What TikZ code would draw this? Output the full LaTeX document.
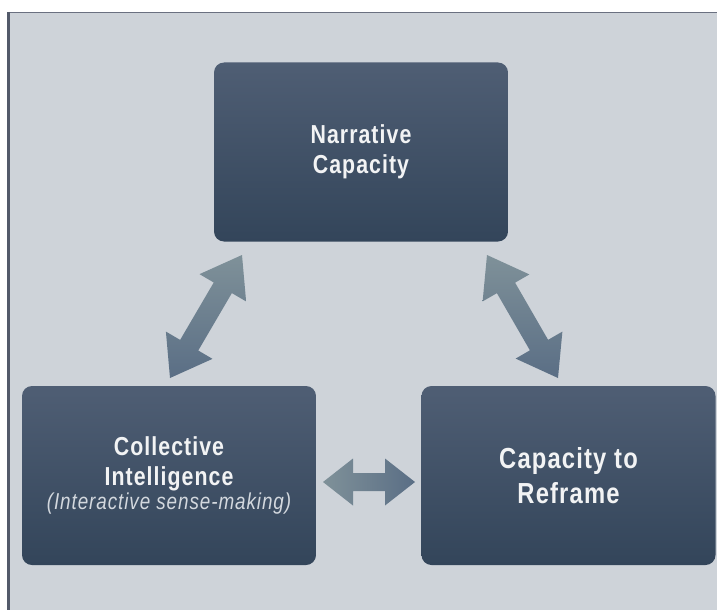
\documentclass[tikz,border=0pt]{standalone}
\usepackage{fontspec}
\setmainfont{Liberation Sans}[FakeStretch=0.82,LetterSpace=4]
\usetikzlibrary{calc}
\definecolor{bgc}{HTML}{CED3D9}
\definecolor{boxtop}{HTML}{4F5E74}
\definecolor{boxbot}{HTML}{33455A}
\definecolor{arrlight}{HTML}{7F9199}
\definecolor{arrdark}{HTML}{5A6E85}
\definecolor{framec}{HTML}{6A7080}
\definecolor{framel}{HTML}{535A6A}
\definecolor{txt}{HTML}{F2F3F4}
\definecolor{subtxt}{HTML}{D3D8DE}
\tikzset{
  conceptbox/.style={rounded corners=10pt, top color=boxtop, bottom color=boxbot,
    text=txt, align=center, inner sep=0pt, minimum width=294pt, minimum height=179pt},
  diagarrow/.style={top color=arrlight, bottom color=arrdark},
  horarrow/.style={left color=arrlight, right color=arrdark}
}
\newcommand\bidiarrow[6]{%
  \path[#6] (#1)
    -- ($(#1)!#5!(#2)!#4!90:(#2)$)
    -- ($(#1)!#5!(#2)!#3!90:(#2)$)
    -- ($(#2)!#5!(#1)!#3!-90:(#1)$)
    -- ($(#2)!#5!(#1)!#4!-90:(#1)$)
    -- (#2)
    -- ($(#2)!#5!(#1)!#4!90:(#1)$)
    -- ($(#2)!#5!(#1)!#3!90:(#1)$)
    -- ($(#1)!#5!(#2)!#3!-90:(#2)$)
    -- ($(#1)!#5!(#2)!#4!-90:(#2)$)
    -- cycle;}
\begin{document}
\begin{tikzpicture}[x=1pt,y=-1pt]
\useasboundingbox (0,0) rectangle (717,610);
\fill[white] (0,0) rectangle (717,610);
\fill[bgc] (7,12) rectangle (717,610);
\draw[framec, line width=1.3pt] (7,12.6) -- (717,12.6);
\draw[framel, line width=2.8pt] (8.4,12) -- (8.4,610);

\node[conceptbox, font=\bfseries\fontsize{26}{30}\selectfont] (narr) at (361,152) {Narrative\\Capacity};
\node[conceptbox, font=\bfseries\fontsize{26}{30}\selectfont] (coll) at (169,475.5)
  {Collective\\Intelligence\\[-6pt]{\mdseries\itshape\color{subtxt}\fontsize{23}{24}\selectfont (Interactive sense-making)}};
\node[conceptbox, font=\bfseries\fontsize{29}{35}\selectfont] (refr) at (568.5,475.5) {Capacity to\\Reframe};

\coordinate (a1) at (242,255);
\coordinate (a2) at (170,378);
\coordinate (b1) at (487,255);
\coordinate (b2) at (558,378);
\coordinate (c1) at (323,482);
\coordinate (c2) at (415,482);

\bidiarrow{a1}{a2}{10.5pt}{27pt}{38pt}{diagarrow}
\bidiarrow{b1}{b2}{10.5pt}{27pt}{38pt}{diagarrow}
\bidiarrow{c1}{c2}{9pt}{23.5pt}{30pt}{horarrow}
\end{tikzpicture}
\end{document}
